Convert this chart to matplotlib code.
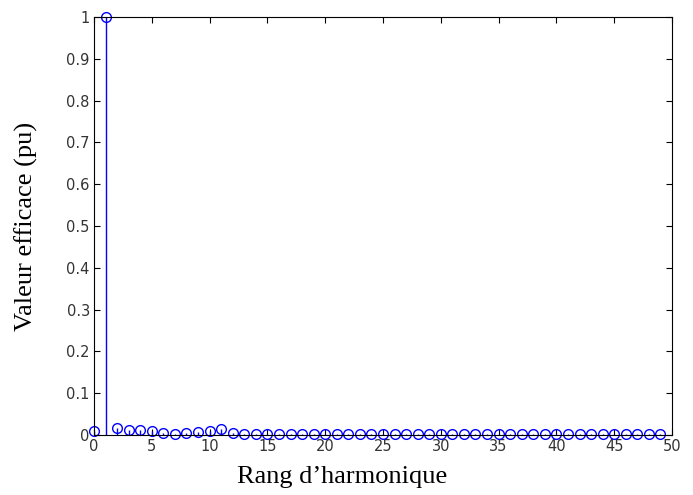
import numpy as np
import matplotlib
matplotlib.use("Agg")
import matplotlib.pyplot as plt

# Harmonic spectrum (rms value per unit of the fundamental)
harmonic_order = list(range(0, 50))
rms_pu = [0.010, 1.000, 0.017, 0.011, 0.013, 0.010, 0.004, 0.003, 0.004, 0.007,
          0.009, 0.014, 0.005, 0.003, 0.003, 0.003, 0.003, 0.003, 0.003, 0.003,
          0.003, 0.003, 0.003, 0.003, 0.003, 0.003, 0.003, 0.003, 0.003, 0.003,
          0.003, 0.003, 0.003, 0.003, 0.003, 0.003, 0.003, 0.003, 0.003, 0.003,
          0.003, 0.003, 0.003, 0.003, 0.003, 0.003, 0.003, 0.003, 0.003, 0.003]
x_ticks = [0, 5, 10, 15, 20, 25, 30, 35, 40, 45, 50]
y_ticks = [0, 0.1, 0.2, 0.3, 0.4, 0.5, 0.6, 0.7, 0.8, 0.9, 1]
y_tick_labels = ["0", "0.1", "0.2", "0.3", "0.4", "0.5", "0.6", "0.7", "0.8", "0.9", "1"]

fig = plt.figure(figsize=(6.93, 4.95), dpi=100)
ax = fig.add_axes([94 / 693, 1 - 435 / 495, (672 - 94) / 693, (435 - 17) / 495])

markerline, stemlines, baseline = ax.stem(harmonic_order, rms_pu, basefmt=" ")
plt.setp(markerline, marker="o", markersize=7, markerfacecolor="none",
         markeredgecolor="#0000ff", markeredgewidth=1.0, clip_on=False)
plt.setp(stemlines, color="#0000ff", linewidth=1.0)

ax.set_xlim(0, 50)
ax.set_ylim(0, 1)
ax.set_xticks(x_ticks)
ax.set_yticks(y_ticks)
ax.set_yticklabels(y_tick_labels)
ax.tick_params(direction="in", top=True, right=True, length=4, width=0.8,
               labelsize=10.5, pad=3)
for lab in ax.get_xticklabels() + ax.get_yticklabels():
    lab.set_family("DejaVu Sans")
    lab.set_color("#333333")
for s in ax.spines.values():
    s.set_linewidth(0.8)

ax.set_xlabel("Rang d\u2019harmonique", family="Liberation Serif", fontsize=19)
ax.set_ylabel("Valeur efficace (pu)", family="Liberation Serif", fontsize=19)
ax.xaxis.set_label_coords(0.43, -0.074, transform=ax.transAxes)
ax.yaxis.set_label_coords(-0.097, 0.5, transform=ax.transAxes)
ax.xaxis.label.set_verticalalignment("top")
ax.yaxis.label.set_verticalalignment("bottom")

fig.savefig("out.png", dpi=100)
